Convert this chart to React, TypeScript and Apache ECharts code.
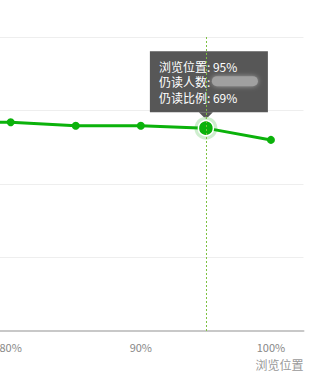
import React, { useEffect, useRef } from "react";
import * as echarts from "echarts";

const categories = ["70%", "75%", "80%", "85%", "90%", "95%", "100%"];
const readRatio = [72, 71.2, 71, 69.8, 69.8, 69, 65];
const focusIndex = 5;
const tipLines = ["浏览位置: 95%", "仍读人数: ", "仍读比例: 69%"];
const axisName = "浏览位置";

const GREEN = "#0bb20b";
const SHIFT = 152;

export default function App() {
  const ref = useRef<HTMLDivElement>(null);
  useEffect(() => {
    if (!ref.current) return;
    const chart = echarts.init(ref.current, null, { renderer: "svg" });
    chart.setOption({
      animation: false,
      grid: { left: 0, right: 26.5, top: 37, bottom: 46, containLabel: false },
      xAxis: {
        type: "category",
        data: categories,
        boundaryGap: true,
        name: axisName,
        nameLocation: "end",
        nameGap: 0,
        nameTextStyle: {
          color: "#999",
          fontSize: 12,
          align: "right",
          verticalAlign: "top",
          padding: [27, 0, 0, 0],
          fontFamily: "Noto Sans CJK SC",
        },
        axisLine: { lineStyle: { color: "#c8c8c8", width: 2 } },
        axisTick: { show: false },
        axisLabel: { interval: 1, color: "#888", fontSize: 11, margin: 10, fontFamily: "Noto Sans CJK SC" },
        splitLine: { show: false },
      },
      yAxis: {
        type: "value",
        min: 0,
        max: 100,
        interval: 25,
        axisLine: { show: false },
        axisTick: { show: false },
        axisLabel: { show: false },
        splitLine: { lineStyle: { color: "#eeeeee", width: 1 } },
      },
      series: [
        {
          type: "scatter",
          data: [[categories[focusIndex], readRatio[focusIndex]]],
          symbolSize: 23,
          itemStyle: { color: "#c2eac2" },
          z: 1,
          silent: true,
          markLine: {
            silent: true,
            symbol: "none",
            label: { show: false },
            lineStyle: { color: "#7dc142", type: [2, 2], width: 1 },
            data: [{ xAxis: categories[focusIndex] }],
          },
        },
        {
          type: "line",
          data: readRatio.map((v, i) =>
            i === focusIndex
              ? { value: v, symbolSize: 15, itemStyle: { color: GREEN, borderColor: "#ffffff", borderWidth: 1.5 } }
              : v
          ),
          symbol: "circle",
          symbolSize: 8,
          showAllSymbol: true,
          lineStyle: { color: GREEN, width: 3 },
          itemStyle: { color: GREEN },
          z: 3,
        },
      ],
    });

    const p = chart.convertToPixel({ seriesIndex: 1 }, [focusIndex, readRatio[focusIndex]]) as number[];
    const px = p[0];
    const py = p[1];
    const left = px - 56;
    const top = py - 77;
    const w = 118;
    const h = 61;
    chart.setOption({
      graphic: [
        {
          type: "group",
          z: 100,
          children: [
            {
              type: "rect",
              shape: { x: left, y: top, width: w, height: h },
              style: { fill: "rgba(50,50,50,0.82)" },
            },
            {
              type: "polygon",
              shape: { points: [[px - 7, top + h], [px + 7, top + h], [px, top + h + 7]] },
              style: { fill: "rgba(50,50,50,0.82)" },
            },
            ...tipLines.map((t, i) => ({
              type: "text",
              style: {
                x: left + 9,
                y: top + 15 + i * 15.5,
                text: t,
                fill: "#ffffff",
                fontSize: 12,
                fontFamily: "Noto Sans CJK SC",
                verticalAlign: "middle",
              },
            })),
            {
              type: "rect",
              shape: { x: left + 62, y: top + 25, width: 46, height: 10, r: 5 },
              style: { fill: "#a0a0a0", shadowBlur: 5, shadowColor: "#a0a0a0" },
            },
          ],
        },
      ],
    });
    return () => chart.dispose();
  }, []);
  return (
    <div style={{ position: "absolute", left: 0, top: 0, width: 330, height: 377, overflow: "hidden", background: "#fff" }}>
      <div
        ref={ref}
        style={{ position: "absolute", left: -SHIFT, top: 0, width: 330 + SHIFT, height: 377 }}
      />
    </div>
  );
}
